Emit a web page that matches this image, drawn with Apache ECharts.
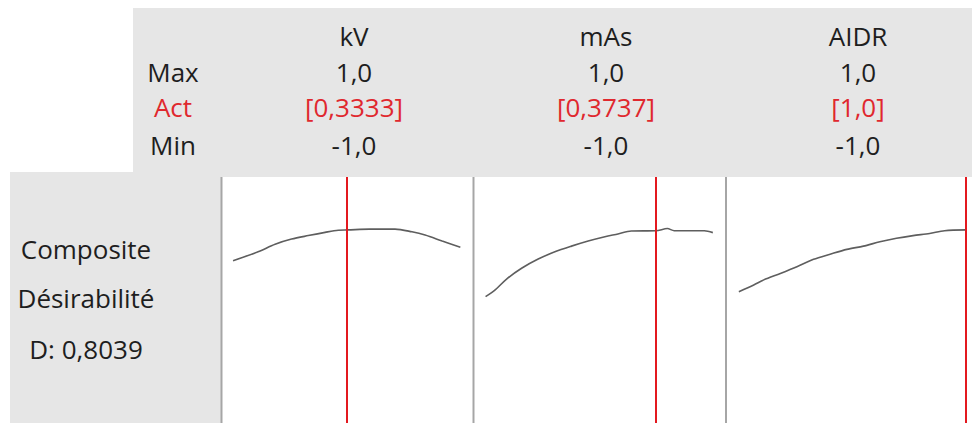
<!DOCTYPE html>
<html>
<head>
<meta charset="utf-8">
<script src="https://cdn.jsdelivr.net/npm/echarts@6/dist/echarts.min.js"></script>
<style>
html,body{margin:0;padding:0;background:#fff;}
#chart{width:972px;height:423px;}
</style>
</head>
<body>
<div id="chart"></div>
<script>
// ---- data ----
var factors = ['kV', 'mAs', 'AIDR'];
var maxLabels = ['1,0', '1,0', '1,0'];
var actLabels = ['[0,3333]', '[0,3737]', '[1,0]'];
var minLabels = ['-1,0', '-1,0', '-1,0'];
var rowLabels = ['Max', 'Act', 'Min'];
var responseLabels = ['Composite', 'Désirabilité', 'D: 0,8039'];
// position of the red "current setting" line on each panel's axis
var actPos = [0.0, 0.5, 1.0];

// composite desirability curves (x on coded axis, y = desirability)
var kvX = [-1.0, -0.78, -0.63, -0.485, -0.338, -0.19, -0.074, 0.01, 0.2, 0.426, 0.574, 0.69, 0.84, 1.0];
var kvY = [0.690, 0.723, 0.751, 0.770, 0.783, 0.795, 0.803, 0.804, 0.807, 0.807, 0.797, 0.785, 0.763, 0.740];
var masX = [-1.0, -0.918, -0.815, -0.683, -0.537, -0.39, -0.244, -0.097, 0.05, 0.165, 0.282, 0.50, 0.60, 0.66, 0.925, 1.0];
var masY = [0.557, 0.581, 0.622, 0.662, 0.696, 0.723, 0.744, 0.763, 0.779, 0.789, 0.800, 0.801, 0.809, 0.801, 0.801, 0.794];
var aidrX = [-1.0, -0.869, -0.781, -0.635, -0.489, -0.343, -0.197, -0.05, 0.096, 0.241, 0.387, 0.533, 0.679, 0.81, 1.0];
var aidrY = [0.575, 0.600, 0.619, 0.643, 0.668, 0.695, 0.714, 0.732, 0.744, 0.760, 0.773, 0.783, 0.791, 0.801, 0.804];

var curvesX = [kvX, masX, aidrX];
var curvesY = [kvY, masY, aidrY];

// ---- layout ----
var FONT = '"Open Sans", "Noto Sans", sans-serif';
var FS = 26;
var gridLefts = [221.7, 474.2, 727.5];
var gridW = 250;
var colCenters = [354, 606, 858];
var rowY = [71.5, 107, 145];
var headerY = 36;

var chart = echarts.init(document.getElementById('chart'), null, {renderer: 'svg'});

var grids = [], xAxes = [], yAxes = [], series = [];
for (var i = 0; i < 3; i++) {
  grids.push({left: gridLefts[i], width: gridW, top: 177, height: 270, show: false,
    containLabel: false, outerBoundsMode: 'none'});
  xAxes.push({type: 'value', gridIndex: i, min: -1.1, max: 1.1, show: false});
  yAxes.push({type: 'value', gridIndex: i, min: 0, max: 1, show: false});
  var pts = curvesX[i].map(function (x, k) { return [x, curvesY[i][k]]; });
  series.push({
    type: 'line', xAxisIndex: i, yAxisIndex: i, data: pts,
    showSymbol: false, smooth: 0.3, silent: true,
    lineStyle: {color: '#5e5e5e', width: 1.6},
    markLine: {
      silent: true, symbol: 'none', label: {show: false},
      lineStyle: {color: '#e3191f', width: 2, type: 'solid'},
      data: [{xAxis: actPos[i]}]
    },
    z: 3
  });
}

var graphics = [
  {type: 'rect', shape: {x: 133, y: 8, width: 839, height: 169}, style: {fill: '#e6e6e6'}, z: -10},
  {type: 'rect', shape: {x: 10, y: 172, width: 211.5, height: 251}, style: {fill: '#e6e6e6'}, z: -10}
];
var seps = [221.5, 473.5, 726];
seps.forEach(function (sx) {
  graphics.push({type: 'line', shape: {x1: sx, y1: 177, x2: sx, y2: 423}, style: {stroke: '#a6a6a6', lineWidth: 2}, z: 5});
});
function txt(s, x, y, color) {
  return {type: 'text', x: x, y: y, z: 10,
    style: {text: s, fill: color || '#1e1e1e', font: FS + 'px ' + FONT, align: 'center', verticalAlign: 'middle'}};
}
for (var j = 0; j < 3; j++) {
  graphics.push(txt(factors[j], colCenters[j], headerY));
  graphics.push(txt(maxLabels[j], colCenters[j], rowY[0]));
  graphics.push(txt(actLabels[j], colCenters[j], rowY[1], '#e0282e'));
  graphics.push(txt(minLabels[j], colCenters[j], rowY[2]));
}
graphics.push(txt(rowLabels[0], 173, rowY[0]));
graphics.push(txt(rowLabels[1], 173, rowY[1], '#e0282e'));
graphics.push(txt(rowLabels[2], 173, rowY[2]));
graphics.push(txt(responseLabels[0], 86, 249));
graphics.push(txt(responseLabels[1], 86, 298));
graphics.push(txt(responseLabels[2], 86, 349));

chart.setOption({
  animation: false,
  backgroundColor: '#ffffff',
  grid: grids,
  xAxis: xAxes,
  yAxis: yAxes,
  series: series,
  graphic: graphics
});
</script>
</body>
</html>
